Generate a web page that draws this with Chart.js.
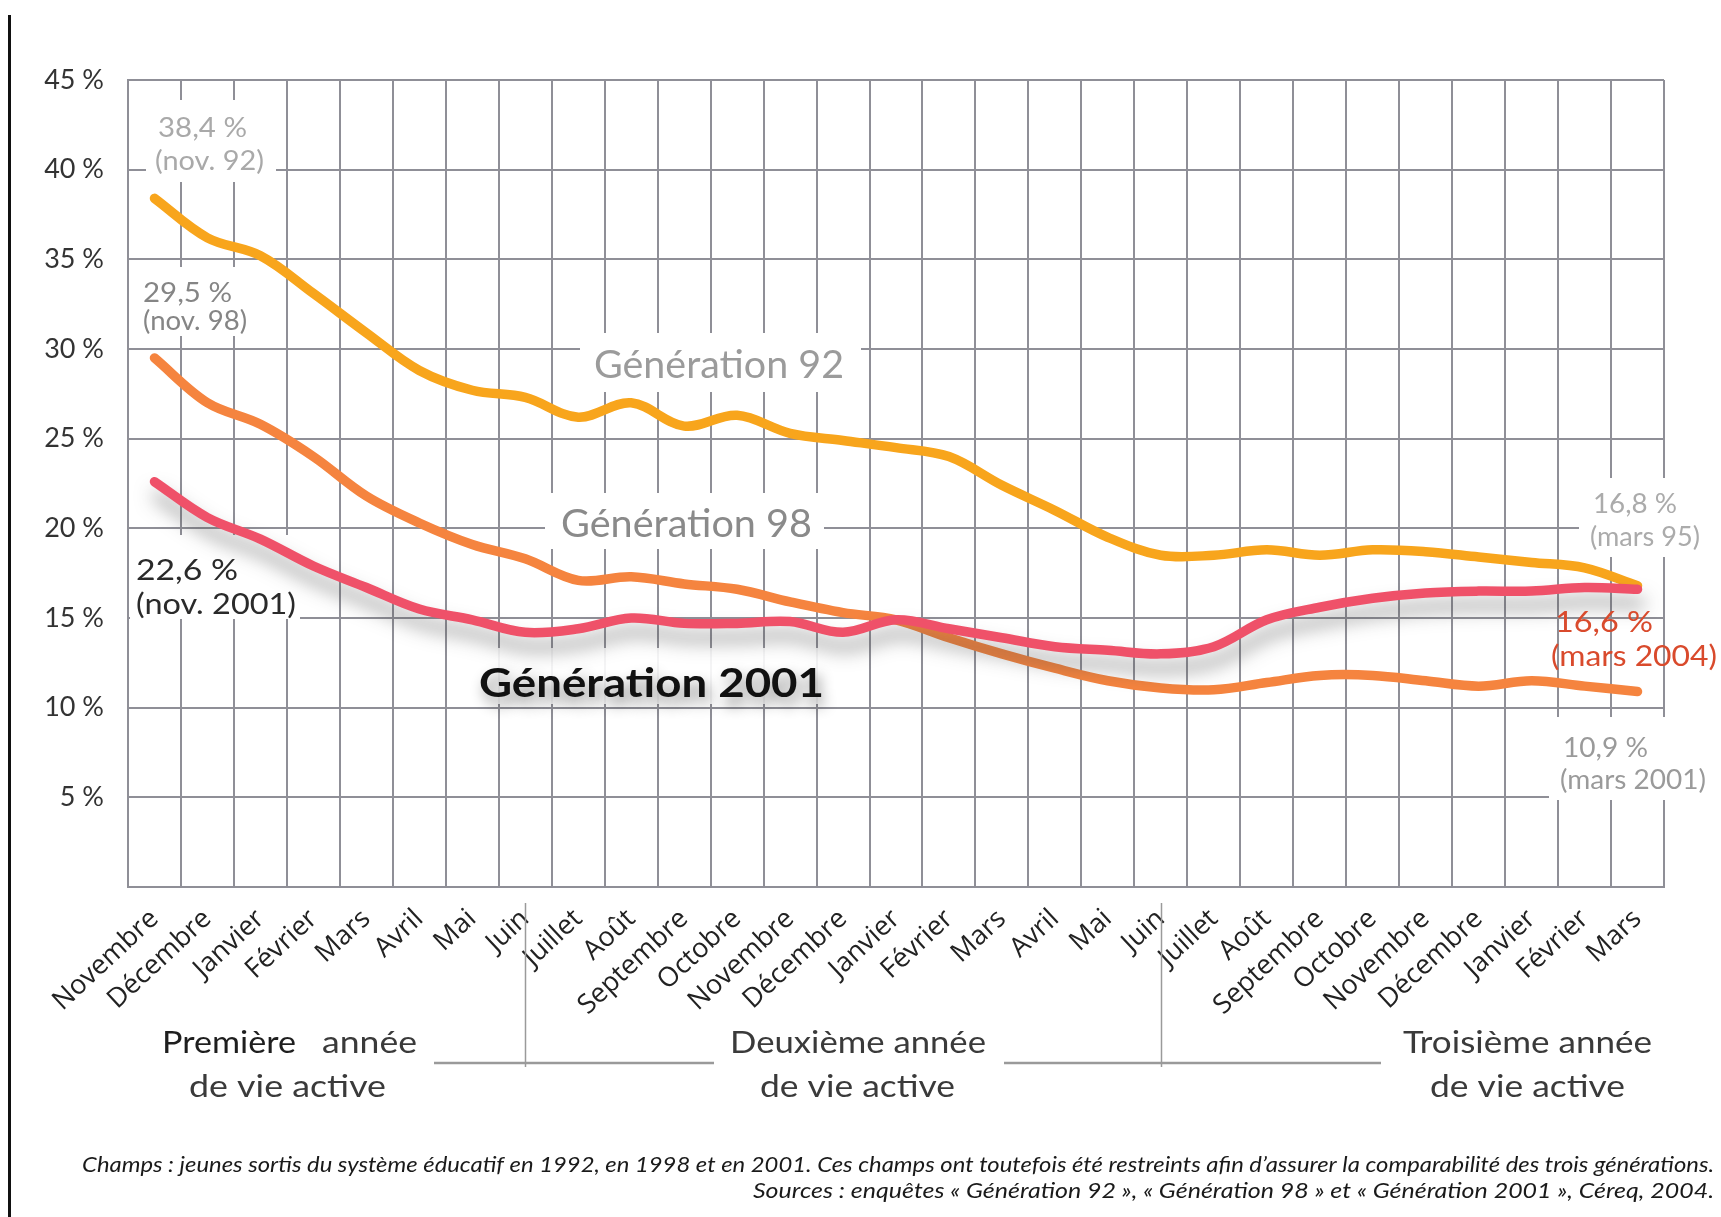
<!DOCTYPE html>
<html><head><meta charset="utf-8">
<script src="https://cdn.jsdelivr.net/npm/chart.js@4.4.1/dist/chart.umd.min.js"></script>
<style>html,body{margin:0;padding:0;background:#fff;overflow:hidden}</style>
</head><body>
<canvas id="c" width="1721" height="1217"></canvas>
<script>
const months = ['Novembre','Décembre','Janvier','Février','Mars','Avril','Mai','Juin','Juillet','Août','Septembre','Octobre','Novembre','Décembre','Janvier','Février','Mars','Avril','Mai','Juin','Juillet','Août','Septembre','Octobre','Novembre','Décembre','Janvier','Février','Mars'];
const gen92 = [38.4,36.2,35.2,33.1,30.9,28.8,27.7,27.3,26.2,27.0,25.7,26.3,25.3,24.9,24.5,24.0,22.4,21.0,19.5,18.5,18.5,18.8,18.5,18.8,18.7,18.4,18.1,17.8,16.8];
const gen98 = [29.5,27.0,25.8,24.0,21.8,20.3,19.1,18.3,17.1,17.3,16.9,16.6,15.9,15.3,14.9,13.9,13.0,12.2,11.5,11.1,11.0,11.4,11.8,11.8,11.5,11.2,11.5,11.2,10.9];
const gen2001 = [22.6,20.6,19.4,17.9,16.7,15.5,14.9,14.2,14.4,15.0,14.7,14.7,14.8,14.2,14.9,14.4,13.9,13.4,13.2,13.0,13.4,14.9,15.6,16.1,16.4,16.5,16.5,16.7,16.6];
const yTickLabels = ['', '5 %', '10 %', '15 %', '20 %', '25 %', '30 %', '35 %', '40 %', '45 %'];
const seriesNames = ['Génération 92', 'Génération 98', 'Génération 2001'];
const endLabels = [['38,4 %','(nov. 92)'],['29,5 %','(nov. 98)'],['22,6 %','(nov. 2001)'],['16,8 %','(mars 95)'],['16,6 %','(mars 2004)'],['10,9 %','(mars 2001)']];
const periodLabels = [['Première','année','de vie active'],['Deuxième année','de vie active'],['Troisième année','de vie active']];
const notes = ['Champs : jeunes sortis du système éducatif en 1992, en 1998 et en 2001. Ces champs ont toutefois été restreints afin d\u2019assurer la comparabilité des trois générations.',
  'Sources : enquêtes « Génération 92 », « Génération 98 » et « Génération 2001 », Céreq, 2004.'];

const GRID = '#8f8f97';
const FONT = 'Lato, "DejaVu Sans", sans-serif';

function fit(ctx, text, x, y, w, align) {
  const m = ctx.measureText(text).width || 1;
  const s = w / m;
  ctx.save();
  ctx.translate(x, y);
  ctx.scale(s, 1);
  ctx.textAlign = align || 'left';
  ctx.fillText(text, 0, 0);
  ctx.restore();
}
function box(ctx, x1, y1, x2, y2, fill) {
  ctx.fillStyle = fill || '#fff';
  ctx.fillRect(x1, y1, x2 - x1, y2 - y1);
}

const decor = {
  id: 'decor',
  beforeDraw(chart) {
    const ctx = chart.ctx;
    ctx.save();
    ctx.fillStyle = '#fff';
    ctx.fillRect(0, 0, chart.width, chart.height);
    ctx.restore();
  },
  beforeDatasetsDraw(chart) {
    const ctx = chart.ctx;
    ctx.save();
    box(ctx, 146, 100, 276, 182);
    box(ctx, 138, 267, 258, 336);
    box(ctx, 130, 535, 300, 619);
    box(ctx, 580, 333, 861, 392);
    box(ctx, 545, 493, 824, 549);
    box(ctx, 468, 648, 835, 704, 'rgba(255,255,255,0.9)');
    box(ctx, 1579, 478, 1710, 557);
    box(ctx, 1549, 717, 1710, 800);
    ctx.restore();
  },
  beforeDatasetDraw(chart, args) {
    if (args.index === 2) {
      const ctx = chart.ctx;
      ctx.save();
      ctx.shadowColor = 'rgba(70,70,70,0.5)';
      ctx.shadowBlur = 18;
      ctx.shadowOffsetX = 3;
      ctx.shadowOffsetY = 14;
    }
  },
  afterDatasetDraw(chart, args) {
    if (args.index === 2) chart.ctx.restore();
  },
  afterDraw(chart) {
    const ctx = chart.ctx;
    const xs = chart.scales.x;
    ctx.save();
    ctx.textBaseline = 'alphabetic';
    // value annotations
    ctx.font = '27px ' + FONT;
    ctx.fillStyle = '#a9a9a9';
    fit(ctx, endLabels[0][0], 158, 137, 89);
    fit(ctx, endLabels[0][1], 155, 170, 109);
    ctx.fillStyle = '#858585';
    fit(ctx, endLabels[1][0], 143, 302, 89);
    fit(ctx, endLabels[1][1], 143, 330, 104);
    ctx.font = '29px ' + FONT;
    ctx.fillStyle = '#2a2a2a';
    fit(ctx, endLabels[2][0], 136, 580, 102);
    fit(ctx, endLabels[2][1], 136, 614, 160);
    ctx.font = '27px ' + FONT;
    ctx.fillStyle = '#ababab';
    fit(ctx, endLabels[3][0], 1593, 513, 84);
    fit(ctx, endLabels[3][1], 1590, 546, 110);
    ctx.font = '29px ' + FONT;
    ctx.fillStyle = '#d94a2c';
    fit(ctx, endLabels[4][0], 1555, 632, 98);
    fit(ctx, endLabels[4][1], 1551, 666, 166);
    ctx.font = '27px ' + FONT;
    ctx.fillStyle = '#9a9a9a';
    fit(ctx, endLabels[5][0], 1563, 757, 85);
    fit(ctx, endLabels[5][1], 1560, 789, 146);
    // series names
    ctx.font = '38px ' + FONT;
    ctx.fillStyle = '#9b9b9b';
    fit(ctx, seriesNames[0], 594, 378, 250);
    ctx.fillStyle = '#8a8a8a';
    fit(ctx, seriesNames[1], 561, 537, 251);
    ctx.save();
    ctx.font = 'bold 40px ' + FONT;
    ctx.fillStyle = '#111';
    ctx.shadowColor = 'rgba(0,0,0,0.45)';
    ctx.shadowBlur = 14;
    ctx.shadowOffsetX = 4;
    ctx.shadowOffsetY = 8;
    fit(ctx, seriesNames[2], 479, 697, 345);
    ctx.restore();
    // period separators
    ctx.strokeStyle = '#9a9a9a';
    ctx.lineWidth = 1.5;
    [7, 19].forEach(i => {
      const x = Math.round(xs.getPixelForValue(i)) + 0.5;
      ctx.beginPath(); ctx.moveTo(x, 903); ctx.lineTo(x, 1067); ctx.stroke();
    });
    ctx.lineWidth = 2.5;
    ctx.beginPath(); ctx.moveTo(434, 1063); ctx.lineTo(714, 1063); ctx.stroke();
    ctx.beginPath(); ctx.moveTo(1004, 1063); ctx.lineTo(1381, 1063); ctx.stroke();
    // period labels
    ctx.font = '30px ' + FONT;
    ctx.fillStyle = '#1e1e1e';
    fit(ctx, periodLabels[0][0], 162, 1053, 134);
    ctx.fillStyle = '#3a3a3a';
    fit(ctx, periodLabels[0][1], 322, 1053, 95);
    fit(ctx, periodLabels[0][2], 189, 1097, 197);
    fit(ctx, periodLabels[1][0], 730, 1053, 256);
    fit(ctx, periodLabels[1][1], 760, 1097, 195);
    fit(ctx, periodLabels[2][0], 1403, 1053, 249);
    fit(ctx, periodLabels[2][1], 1430, 1097, 195);
    // notes
    ctx.font = 'italic 21px ' + FONT;
    ctx.fillStyle = '#1a1a1a';
    fit(ctx, notes[0], 1714, 1172, 1632, 'right');
    fit(ctx, notes[1], 1714, 1198, 961, 'right');
    // left frame line
    ctx.fillStyle = '#111';
    ctx.fillRect(8, 15, 3, 1202);
    ctx.restore();
  }
};

new Chart(document.getElementById('c'), {
  type: 'line',
  data: {
    labels: months,
    datasets: [
      { label: seriesNames[0], data: gen92, borderColor: '#f8a51c', order: 2 },
      { label: seriesNames[1], data: gen98, borderColor: '#f5843f', order: 1 },
      { label: seriesNames[2], data: gen2001, borderColor: '#ef5169', order: 0 }
    ]
  },
  options: {
    responsive: false,
    animation: false,
    devicePixelRatio: 1,
    layout: { padding: { top: 80, right: 57, left: 0, bottom: 0 } },
    plugins: { legend: { display: false }, tooltip: { enabled: false } },
    elements: {
      point: { radius: 0 },
      line: { borderWidth: 9.5, tension: 0.35, borderCapStyle: 'round', borderJoinStyle: 'round', fill: false }
    },
    scales: {
      x: {
        offset: true,
        grid: { offset: true, color: GRID, lineWidth: 2, drawTicks: false },
        border: { color: GRID, width: 2 },
        ticks: { autoSkip: false, maxRotation: 43, minRotation: 43, padding: 16, color: '#222',
                 font: { family: '"Open Sans", sans-serif', size: 27 } },
        afterFit(s) { s.height = 330; }
      },
      y: {
        min: 0, max: 45,
        grid: { color: GRID, lineWidth: 2, drawTicks: false },
        border: { color: GRID, width: 2 },
        ticks: { stepSize: 5, padding: 24, color: '#333', font: { family: 'Lato, sans-serif', size: 27 },
                 callback: (v, i) => yTickLabels[i] },
        afterFit(s) { s.width = 128; }
      }
    }
  },
  plugins: [decor]
});
</script>
</body></html>
